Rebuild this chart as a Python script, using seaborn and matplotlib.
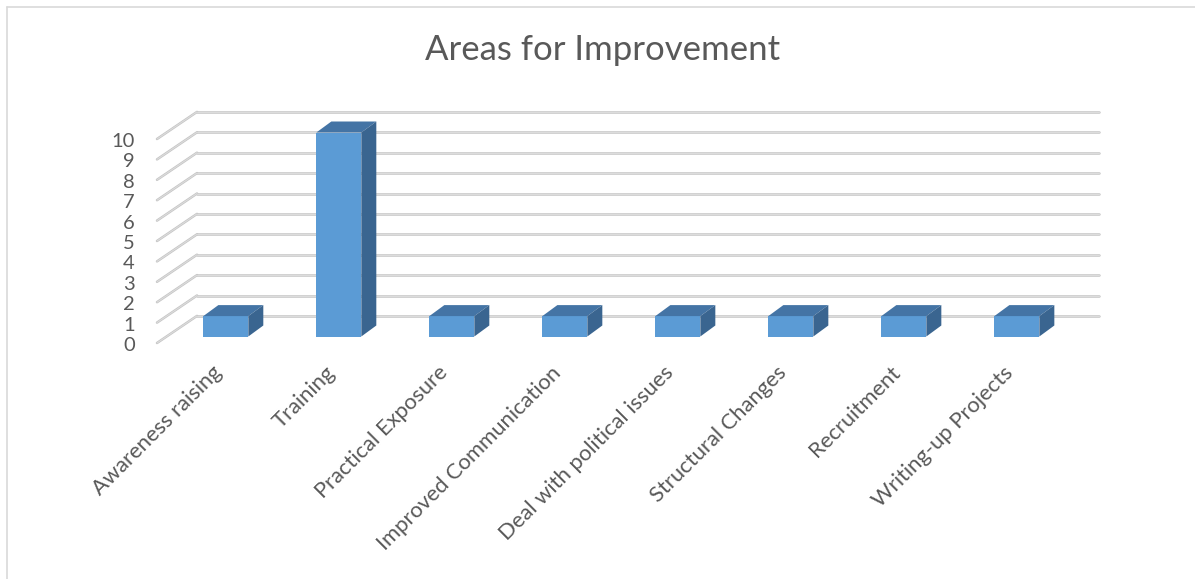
import matplotlib
matplotlib.use("Agg")
import matplotlib.pyplot as plt
import seaborn as sns
import pandas as pd
from matplotlib.transforms import offset_copy
from matplotlib.patches import Polygon
from matplotlib.lines import Line2D

# ---- data ----
categories = ["Awareness raising", "Training", "Practical Exposure",
              "Improved Communication", "Deal with political issues",
              "Structural Changes", "Recruitment", "Writing-up Projects"]
values = [1, 10, 1, 1, 1, 1, 1, 1]
y_ticks = list(range(0, 11))
title = "Areas for Improvement"

# ---- style ----
sns.set_theme(style="white")
plt.rcParams['font.family'] = ['Lato', 'DejaVu Sans']

FRONT = "#5B9BD5"
TOP = "#4474A5"
SIDE = "#3A6590"
TEXT = "#595959"
GRID_DARK = "#C4C4C4"
GRID_LIGHT = "#DCDCDC"

W, H = 1195, 579
fig = plt.figure(figsize=(W / 100, H / 100), dpi=100)
fig.patch.set_facecolor("white")

# axes = front plane of the 3D box
ax = fig.add_axes([157 / W, (H - 336.5) / H, (1059 - 157) / W, (336.5 - 132.5) / H])
df = pd.DataFrame({"area": categories, "count": values})
sns.barplot(data=df, x="area", y="count", ax=ax, color=FRONT, saturation=1,
            width=0.398, linewidth=0, zorder=3)
ax.set_xlim(-0.609, 7.373)
ax.set_ylim(0, 10)
ax.axis("off")

# pixel -> data scale
p00 = ax.transData.transform((0, 0))
sx = ax.transData.transform((1, 0))[0] - p00[0]
sy = ax.transData.transform((0, 1))[1] - p00[1]

def dx(px):
    return px / sx

def dy(px):
    return px / sy

xmin, xmax = ax.get_xlim()

# back wall gridlines and side wall diagonals
back_dx, back_dy = dx(40), dy(20.6)
front_drop = dy(6.5)
for v in y_ticks:
    xs_back = [xmin + back_dx, xmax + back_dx]
    ys_back = [v + back_dy, v + back_dy]
    xs_diag = [xmin, xmin + back_dx]
    ys_diag = [v - front_drop, v + back_dy]
    for xs, ys in ((xs_back, ys_back), (xs_diag, ys_diag)):
        ax.plot(xs, ys, color=GRID_DARK, lw=1.8, clip_on=False, zorder=1,
                solid_capstyle="round")
        ax.plot(xs, ys, color=GRID_LIGHT, lw=0.8, clip_on=False, zorder=1.1,
                solid_capstyle="round")

# 3D faces for each bar
ddx, ddy = dx(15), dy(11)
for p in list(ax.patches):
    x0, w, h = p.get_x(), p.get_width(), p.get_height()
    top = Polygon([(x0, h), (x0 + w, h), (x0 + w + ddx, h + ddy), (x0 + ddx, h + ddy)],
                  closed=True, facecolor=TOP, edgecolor="none", zorder=3, clip_on=False)
    side = Polygon([(x0 + w, 0), (x0 + w, h), (x0 + w + ddx, h + ddy), (x0 + w + ddx, ddy)],
                   closed=True, facecolor=SIDE, edgecolor="none", zorder=3, clip_on=False)
    ax.add_patch(top)
    ax.add_patch(side)

# y tick labels at the front edge of the side wall
tick_tr = offset_copy(ax.transData, fig=fig, x=-22, y=-9, units="dots")
for v in y_ticks:
    ax.text(xmin, v, str(v), transform=tick_tr, ha="right", va="center",
            fontsize=14.5, color=TEXT, clip_on=False)

# category labels rotated 45 degrees
cat_tr = offset_copy(ax.transData, fig=fig, x=-14, y=-26, units="dots")
for i, c in enumerate(categories):
    ax.text(i, 0, c, transform=cat_tr, rotation=45, rotation_mode="anchor",
            ha="right", va="top", fontsize=15.8, color=TEXT, clip_on=False)

# title
fig.text(603 / W, 1 - 50 / H, title, ha="center", va="center", fontsize=25, color=TEXT)

# chart border (cropped on right/bottom)
fig.add_artist(Line2D([7 / W, 7 / W], [0, 1 - 7 / H], transform=fig.transFigure,
                      color="#D9D9D9", lw=1.2))
fig.add_artist(Line2D([7 / W, 1], [1 - 7 / H, 1 - 7 / H], transform=fig.transFigure,
                      color="#D9D9D9", lw=1.2))

fig.savefig("out.png", dpi=100, facecolor="white")
